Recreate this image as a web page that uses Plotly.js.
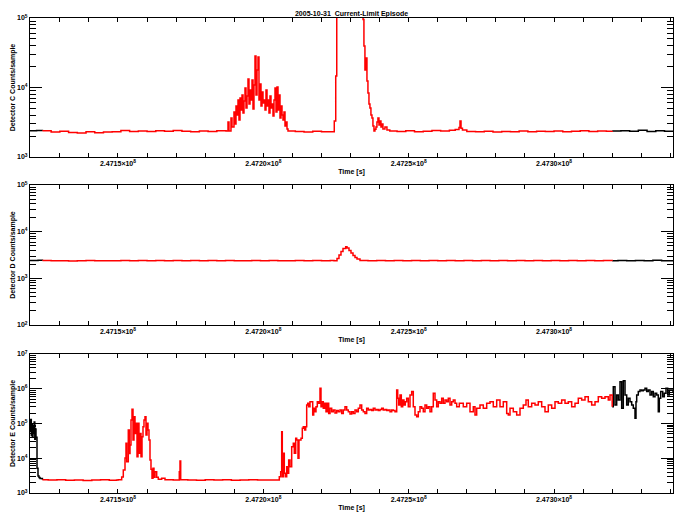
<!DOCTYPE html>
<html>
<head>
<meta charset="utf-8">
<script src="https://cdn.plot.ly/plotly-3.0.1.min.js"></script>
<style>body{margin:0;background:#fff}</style>
</head>
<body>
<div id="episode" style="width:684px;height:518px"></div>
<script>
// Temps en secondes, comptes par échantillon
const tempsC = [247119730, 247122000, 247124000, 247127000, 247130000, 247133000, 247136000, 247139000, 247142000, 247145000, 247148000, 247151000, 247154000, 247157000, 247160000, 247163000, 247166000, 247169000, 247172000, 247175000, 247178000, 247181000, 247184000,
  247187150, 247187840, 247188180, 247188870, 247189220, 247189900, 247190250, 247190590, 247190940, 247191280, 247191620, 247191970, 247192310, 247192660, 247193000, 247193340, 247193690, 247194030, 247194380, 247194720, 247195060, 247195410, 247195750, 247196100, 247196440, 247196780, 247197130, 247197470, 247197820, 247198160, 247198500, 247198850, 247199190, 247199540, 247199880, 247200220, 247200570, 247200910, 247201260, 247201600, 247201940, 247202290, 247202630, 247202980, 247203320, 247203660, 247204010, 247204350, 247204690, 247205040, 247205380, 247205730, 247206070, 247206420, 247206760, 247207100, 247207450, 247207790, 247208140, 247208480,
  247211000, 247214000, 247217000, 247220000, 247224000, 247224400, 247224900, 247225250, 247233900, 247234300, 247234600, 247234950, 247235300, 247235640, 247235980, 247236330, 247236670, 247237010, 247237360, 247237700, 247238050, 247238390, 247238740, 247239080, 247239420, 247239770, 247240110, 247240460, 247240800, 247241140, 247241830, 247242520, 247243500,
  247246000, 247249000, 247252000, 247255000, 247258000, 247261000, 247264000, 247266000, 247267300, 247267650, 247268000, 247268500, 247270000, 247273000, 247276000, 247279000, 247282000, 247285000, 247288000, 247291000, 247294000, 247297000, 247300000, 247303000, 247306000, 247309000, 247312000, 247315000, 247318000, 247320000,
  247323000, 247326000, 247329000, 247332000, 247335000, 247338000, 247340920];
const comptesC = [2380, 2400, 2380, 2280, 2350, 2260, 2220, 2300, 2240, 2290, 2310, 2400, 2330, 2370, 2320, 2380, 2340, 2400, 2350, 2310, 2370, 2330, 2390,
  2370, 3190, 2370, 3640, 2700, 4440, 2985, 5420, 4020, 6610, 3410, 7060, 4745, 7800, 4300, 6390, 9840, 5070, 7550, 13250, 5790, 9200, 6610, 12820, 4910, 10860, 28400, 7800, 17860, 27480, 6610, 11230, 5420, 8610, 5980, 6610, 4745, 9200, 5420, 6610, 4300, 7550, 5070, 5790, 3890, 6610, 9840, 4440, 10170, 4745, 7800, 3640, 5420, 4020, 3410, 4440, 2790, 3190, 2530, 2370,
  2330, 2290, 2350, 2300, 2300, 3300, 14640, 500000, 500000, 95000, 39540, 17860, 26560, 12400, 8330, 5790, 5070, 4020, 3640, 2790, 2370, 2500, 2700, 3190, 3640, 2880, 3300, 2700, 2985, 2530, 2700, 2450, 2370,
  2330, 2380, 2300, 2350, 2400, 2370, 2430, 2480, 2650, 3300, 2600, 2450, 2330, 2300, 2350, 2290, 2330, 2310, 2360, 2300, 2340, 2320, 2360, 2300, 2340, 2380, 2330, 2370, 2350, 2360,
  2380, 2350, 2420, 2330, 2380, 2340, 2300];

const tempsD = [247119730, 247121000, 247122500, 247124000, 247127000, 247130000, 247133000, 247136000, 247139000, 247142000, 247145000, 247148000, 247151000, 247154000, 247157000, 247160000, 247163000, 247166000, 247169000, 247172000, 247175000, 247178000, 247181000, 247184000, 247187000, 247190000, 247193000, 247196000, 247199000, 247202000, 247205000, 247208000, 247211000, 247214000, 247217000, 247220000, 247223000,
  247224300, 247225340, 247226020, 247226710, 247227400, 247228330, 247228780, 247229460, 247230150, 247230840, 247231530, 247232220, 247233250,
  247236000, 247239000, 247242000, 247245000, 247248000, 247251000, 247254000, 247257000, 247260000, 247263000, 247266000, 247269000, 247272000, 247275000, 247278000, 247281000, 247284000, 247287000, 247290000, 247293000, 247296000, 247299000, 247302000, 247305000, 247308000, 247311000, 247314000, 247317000, 247320000,
  247322000, 247325000, 247328000, 247331000, 247334000, 247337000, 247340920];
const comptesD = [2420, 2400, 2430, 2400, 2370, 2390, 2360, 2380, 2400, 2370, 2390, 2380, 2410, 2380, 2400, 2370, 2410, 2390, 2420, 2380, 2400, 2370, 2410, 2380, 2400, 2370, 2390, 2410, 2380, 2400, 2370, 2390, 2410, 2380, 2400, 2390, 2400,
  2390, 2660, 3160, 3760, 4360, 4760, 4470, 3950, 3490, 3080, 2790, 2600, 2420,
  2380, 2410, 2370, 2400, 2390, 2410, 2380, 2400, 2370, 2410, 2390, 2400, 2380, 2410, 2390, 2400, 2370, 2410, 2380, 2400, 2390, 2410, 2380, 2400, 2390, 2410, 2380, 2400, 2390,
  2410, 2380, 2420, 2390, 2430, 2380, 2410];

const tempsE = [247119730, 247119970, 247120180, 247120350, 247120550, 247120760, 247120970, 247121170, 247121380, 247121590, 247121790, 247122140, 247122480, 247122820, 247123170, 247124000,
  247126000, 247129000, 247132000, 247135000, 247138000, 247141000, 247144000, 247147000, 247149500,
  247150100, 247151270, 247151820, 247152410, 247152750, 247152990, 247153540, 247153890, 247154130, 247154470, 247154820, 247155160, 247155500, 247155850, 247156190, 247156540, 247156880, 247157220, 247157570, 247157910, 247158260, 247158600, 247158940, 247159290, 247159630, 247159980, 247160320, 247160660, 247161010, 247161350, 247161700, 247162040, 247162380, 247162730, 247163310, 247163860, 247165030, 247166170,
  247169000, 247171090, 247171330, 247171570, 247174000, 247177000, 247180000, 247183000, 247186000, 247189000, 247192000, 247195000, 247198000, 247201000, 247204000,
  247205490, 247205970, 247206310, 247206520, 247206860, 247207210, 247207550, 247208030, 247208380, 247208720, 247209170, 247209750, 247210300, 247210650, 247211130, 247211470, 247211920, 247212260, 247212610, 247212950, 247213400, 247213740, 247214220, 247214570,
  247214910, 247215260, 247215600, 247216050, 247216630, 247216980, 247217320, 247217660, 247218110, 247218560, 247219040, 247219490, 247219830, 247220180, 247220620, 247221100, 247221550, 247222000, 247222480, 247222930, 247223510, 247224060, 247224650, 247225230, 247225780, 247226370, 247226950, 247227500, 247228090, 247228670, 247229220, 247229810, 247230390, 247230940, 247231530, 247232110, 247232660, 247233250, 247233830, 247234380, 247234970, 247235550, 247236100, 247236690, 247237270, 247237820, 247238410, 247238990, 247239540, 247240130, 247240710, 247241260, 247241850, 247242430, 247242980, 247243570, 247244150, 247244700, 247245290,
  247245870, 247246220, 247246560, 247247010, 247247460, 247247940, 247248380, 247248830, 247249310, 247249860, 247250450, 247251030, 247251580, 247252170, 247252750, 247253300, 247253890, 247254470, 247255020, 247255610, 247256190, 247256740, 247257330, 247257910, 247258460, 247259050, 247259630, 247260180, 247260770, 247261350, 247261900, 247262490, 247263070, 247263620, 247264210, 247264790, 247265340, 247265930, 247266510, 247267410,
  247268780, 247269950, 247271090, 247272220, 247272810, 247273390, 247274530, 247275660, 247276830, 247277970, 247279100, 247280270, 247281410, 247282540, 247283710, 247284260, 247284850, 247285980, 247287150, 247288290, 247289420, 247290350, 247291140, 247292310, 247293450, 247294580, 247295750, 247296890, 247298020, 247299190, 247300330, 247301460, 247302630, 247303770, 247304900, 247306070, 247307210, 247308340, 247309510, 247310650, 247311780, 247312950, 247314090, 247315220, 247316390, 247317530, 247318660, 247319250, 247320000,
  247320380, 247320970, 247321550, 247322100, 247322690, 247323270, 247323820, 247324410, 247324990, 247325540, 247326130, 247326710, 247327260, 247327850, 247328190, 247328430, 247328980, 247329570, 247330150, 247330700, 247331290, 247331870, 247332420, 247333010, 247333590, 247334140, 247334730, 247335310, 247335860, 247336210, 247336690, 247337380, 247337930, 247338510, 247339100, 247339650, 247340920];
const comptesE = [60000, 130000, 45000, 95000, 40000, 80000, 52000, 110000, 35000, 70000, 40000, 5200, 3100, 2800, 2600, 2400,
  2350, 2400, 2330, 2380, 2300, 2360, 2410, 2340, 2380,
  2400, 2880, 4590, 10150, 26900, 7950, 65000, 13800, 24000, 126000, 257000, 33500, 157000, 52000, 101000, 11100, 101000, 13900, 52000, 11100, 41700, 81000, 126000, 157000, 46600, 101000, 65000, 33500, 8900, 4800, 2650, 5140, 2830, 4100, 2830, 2480, 2650, 2400,
  2370, 4100, 8330, 2400, 2380, 2330, 2400, 2350, 2390, 2340, 2370, 2410, 2350, 2380, 2360,
  2950, 4100, 58000, 2950, 13900, 3690, 2950, 5700, 3690, 8900, 5700, 21500, 26900, 13900, 37500, 33500, 10000, 33500, 33500, 37500, 73000, 81000, 65000, 81000,
  340000, 380000, 303000, 425000, 425000, 176000, 276000, 218000, 303000, 425000, 380000, 1030000, 303000, 425000, 276000, 380000, 218000, 380000, 195000, 276000, 218000, 245000, 200000, 235000, 218000, 245000, 195000, 245000, 303000, 245000, 218000, 187000, 218000, 195000, 245000, 218000, 276000, 340000, 245000, 218000, 195000, 276000, 245000, 255000, 235000, 276000, 245000, 255000, 235000, 255000, 276000, 245000, 255000, 235000, 245000, 218000, 245000, 235000, 218000,
  920000, 530000, 340000, 660000, 303000, 475000, 340000, 425000, 530000, 303000, 660000, 830000, 303000, 176000, 157000, 218000, 303000, 276000, 218000, 340000, 276000, 303000, 218000, 303000, 740000, 475000, 303000, 425000, 380000, 530000, 380000, 475000, 425000, 530000, 340000, 425000, 475000, 380000, 303000, 380000,
  303000, 380000, 218000, 303000, 176000, 276000, 340000, 276000, 380000, 425000, 303000, 475000, 303000, 425000, 195000, 176000, 276000, 218000, 176000, 276000, 340000, 475000, 303000, 380000, 340000, 425000, 303000, 218000, 340000, 276000, 425000, 380000, 475000, 380000, 425000, 303000, 380000, 530000, 475000, 590000, 425000, 340000, 425000, 590000, 530000, 590000, 475000, 660000, 303000,
  1150000, 340000, 660000, 475000, 1590000, 276000, 1700000, 660000, 340000, 530000, 425000, 340000, 276000, 142000, 425000, 660000, 830000, 920000, 870000, 920000, 1030000, 830000, 920000, 660000, 830000, 590000, 740000, 660000, 218000, 530000, 830000, 590000, 740000, 1030000, 660000, 920000, 800000];

// Partie en rouge : intervalle de l'épisode
const debutRouge = 247124000;
const finRouge = 247320000;

const ticksTemps = [247150000, 247200000, 247250000, 247300000];
const etiquettesTemps = ["2.4715×10<sup>8</sup>", "2.4720×10<sup>8</sup>", "2.4725×10<sup>8</sup>", "2.4730×10<sup>8</sup>"];
const ticksC = [1e3, 1e4, 1e5];
const ticksD = [1e2, 1e3, 1e4, 1e5];
const ticksE = [1e3, 1e4, 1e5, 1e6, 1e7];
const etiquette = v => "10<sup>" + Math.round(Math.log10(v)) + "</sup>";

const police = { family: "Liberation Sans, Arial, sans-serif", size: 7, color: "black", weight: "bold" };

function series(t, v, xa, ya) {
  const choisir = test => ({ x: t.filter(x => test(x)), y: v.filter((_, i) => test(t[i])) });
  const morceaux = [
    [choisir(x => x <= debutRouge), "black"],
    [choisir(x => x >= finRouge), "black"],
    [choisir(x => x >= debutRouge && x <= finRouge), "red"]
  ];
  return morceaux.map(([s, c]) => ({
    x: s.x, y: s.y, type: "scatter", mode: "lines",
    line: { color: c, width: 1.5, shape: "hv" },
    xaxis: xa, yaxis: ya, hoverinfo: "skip", showlegend: false
  }));
}

function mineurs(ticks) {
  const m = [];
  ticks.slice(0, -1).forEach(b => { for (let k = 2; k < 10; k++) m.push(b * k); });
  return m;
}

function axeX(ancre) {
  return {
    anchor: ancre, domain: [0, 1], range: [247119730, 247340920],
    tickmode: "array", tickvals: ticksTemps, ticktext: etiquettesTemps,
    ticks: "inside", ticklen: 4, tickcolor: "black", tickfont: police,
    showline: true, linecolor: "black", linewidth: 1, mirror: "ticks",
    showgrid: false, zeroline: false,
    minor: { tickmode: "linear", tick0: 247150000, dtick: 10000, ticks: "inside", ticklen: 4, tickcolor: "black", showgrid: false },
    title: { text: "Time [s]", font: police, standoff: 2 }
  };
}

function axeY(ancre, dom, plage, ticks, titre) {
  return {
    anchor: ancre, domain: dom, type: "log", range: plage,
    tickmode: "array", tickvals: ticks, ticktext: ticks.map(etiquette),
    ticks: "inside", ticklen: 12, tickcolor: "black", tickfont: police,
    showline: true, linecolor: "black", linewidth: 1, mirror: "ticks",
    showgrid: false, zeroline: false,
    minor: { tickmode: "array", tickvals: mineurs(ticks), ticks: "inside", ticklen: 6, tickcolor: "black", showgrid: false },
    title: { text: titre, font: police, standoff: 0 }
  };
}

const traces = [
  ...series(tempsC, comptesC, "x", "y"),
  ...series(tempsD, comptesD, "x2", "y2"),
  ...series(tempsE, comptesE, "x3", "y3")
];

Plotly.newPlot("episode", traces, {
  width: 684, height: 518,
  margin: { l: 30, r: 11, t: 18, b: 25 },
  paper_bgcolor: "white", plot_bgcolor: "white",
  font: police,
  title: { text: "2005-10-31  Current-Limit Episode", font: police, x: 0.514, xanchor: "center", y: 0.973, yanchor: "middle" },
  xaxis: axeX("y"),
  xaxis2: axeX("y2"),
  xaxis3: axeX("y3"),
  yaxis: axeY("x", [0.7074, 1], [3, 5], ticksC, "Detector C Counts/sample"),
  yaxis2: axeY("x2", [0.3537, 0.6484], [2, 5], ticksD, "Detector D Counts/sample"),
  yaxis3: axeY("x3", [0, 0.2926], [3, 7], ticksE, "Detector E Counts/sample")
}, { displayModeBar: false, staticPlot: true });
</script>
</body>
</html>
